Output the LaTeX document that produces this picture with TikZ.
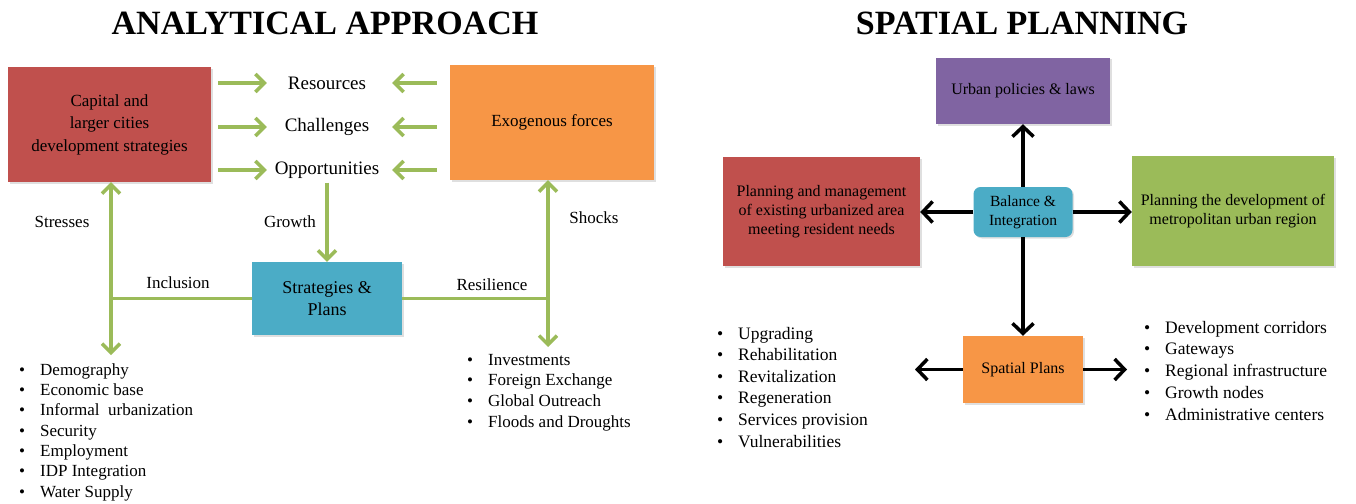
\documentclass[tikz,border=0pt]{standalone}
\usepackage{fontspec}
\setmainfont{Liberation Serif}
\usetikzlibrary{arrows.meta,shadows}
\definecolor{RedClr}{RGB}{192,80,77}
\definecolor{OrangeClr}{RGB}{247,150,70}
\definecolor{BlueClr}{RGB}{75,172,198}
\definecolor{GreenClr}{RGB}{155,187,89}
\definecolor{PurpleClr}{RGB}{128,100,162}
\newcommand{\ListItem}[1]{\makebox[21pt][l]{\textbullet}#1}

\begin{document}
\begin{tikzpicture}[x=1pt,y=-1pt,
  >={Straight Barb[length=9pt,width=18pt]},
  title/.style={font=\bfseries\fontsize{34}{40}\selectfont},
  box/.style={inner sep=2pt,align=center,text=black,
    drop shadow={shadow xshift=1.5pt,shadow yshift=-1.5pt,opacity=.25}},
  word/.style={inner sep=0pt,minimum width=120pt,font=\fontsize{19}{22}\selectfont},
  lbl/.style={inner sep=0pt,font=\fontsize{17}{20}\selectfont},
  list/.style={inner sep=0pt,align=left,anchor=base west},
  garrow/.style={->,draw=GreenClr,line width=3.5pt},
  gline/.style={draw=GreenClr,line width=3.5pt},
  karrow/.style={-{Straight Barb[length=10pt,width=21pt]},draw=black,line width=3.5pt}]
\useasboundingbox (0,0) rectangle (1356,503);

\node[title] (analytic) at (325,23) {ANALYTICAL APPROACH};
\node[title] (planning) at (1022,23) {SPATIAL PLANNING};

\node[box,fill=RedClr,minimum width=203pt,minimum height=115pt,font=\fontsize{17}{22.5}\selectfont] (capital) at (109.5,124.5) {Capital and\\larger cities\\development strategies};
\node[box,fill=OrangeClr,minimum width=204pt,minimum height=115pt,font=\fontsize{17}{22}\selectfont] (exo) at (552,122.5) {Exogenous forces};
\node[box,fill=BlueClr,minimum width=150pt,minimum height=73pt,font=\fontsize{18}{22}\selectfont] (strat) at (327,298.5) {Strategies \&\\Plans};

\node[word] (res) at (327,83) {Resources};
\node[word] (chal) at (327,127) {Challenges};
\node[word] (opp) at (327,170) {Opportunities};

\draw[garrow,shorten <=7pt] (capital.east |- res.west) -- (res.west);
\draw[garrow,shorten <=7pt] (capital.east |- chal.west) -- (chal.west);
\draw[garrow,shorten <=7pt] (capital.east |- opp.west) -- (opp.west);
\draw[garrow,shorten <=13pt,shorten >=5pt] (exo.west |- res.east) -- (res.east);
\draw[garrow,shorten <=13pt,shorten >=5pt] (exo.west |- chal.east) -- (chal.east);
\draw[garrow,shorten <=13pt,shorten >=5pt] (exo.west |- opp.east) -- (opp.east);
\draw[garrow,shorten <=4pt] (opp.south) -- (strat.north);

\coordinate (stressend) at (111,355);
\coordinate (shockend) at (548,347);
\draw[garrow,<->] (capital.south -| stressend) -- (stressend);
\draw[garrow,<->] (exo.south -| shockend) -- (shockend);
\draw[gline] (strat.west) -- (strat.west -| stressend);
\draw[gline] (strat.east) -- (strat.east -| shockend);

\node[lbl] (stresses) at (62,222) {Stresses};
\node[lbl] (growth) at (290,222) {Growth};
\node[lbl] (inclusion) at (178,283) {Inclusion};
\node[lbl] (shocks) at (594,218) {Shocks};
\node[lbl] (resilience) at (492,285) {Resilience};

\node[list,font=\fontsize{17}{20.3}\selectfont] (stresslist) at (19,497) {\ListItem{Demography}\\\ListItem{Economic base}\\\ListItem{Informal\ \ urbanization}\\\ListItem{Security}\\\ListItem{Employment}\\\ListItem{IDP Integration}\\\ListItem{Water Supply}};
\node[list,font=\fontsize{17}{20.6}\selectfont] (shocklist) at (467,427) {\ListItem{Investments}\\\ListItem{Foreign Exchange}\\\ListItem{Global Outreach}\\\ListItem{Floods and Droughts}};

\node[box,fill=PurpleClr,minimum width=174pt,minimum height=66pt,font=\fontsize{16}{19}\selectfont] (policies) at (1023,91) {Urban policies \& laws};
\node[box,fill=RedClr,minimum width=197pt,minimum height=109pt,font=\fontsize{16}{19}\selectfont] (manage) at (821.5,211.5) {Planning and management\\of existing urbanized area\\meeting resident needs};
\node[box,fill=GreenClr,minimum width=202pt,minimum height=110pt,font=\fontsize{16}{19}\selectfont] (metro) at (1233,211) {Planning the development of\\metropolitan urban region};
\node[box,fill=BlueClr,rounded corners=7pt,minimum width=99pt,minimum height=50pt,font=\fontsize{15.5}{19}\selectfont] (balance) at (1023,212) {Balance \&\\Integration};
\node[box,fill=OrangeClr,minimum width=120pt,minimum height=67pt,font=\fontsize{16}{19}\selectfont] (spatial) at (1023,369.5) {Spatial Plans};

\draw[karrow] (balance.north) -- (balance.north |- policies.south);
\draw[karrow] (balance.west) -- (balance.west -| manage.east);
\draw[karrow] (balance.east) -- (balance.east -| metro.west);
\draw[karrow] (balance.south) -- (balance.south |- spatial.north);

\coordinate (upgradeend) at (915,369.5);
\coordinate (corridorend) at (1127,369.5);
\draw[karrow] (spatial.west) -- (upgradeend);
\draw[karrow] (spatial.east) -- (corridorend);

\node[list,font=\fontsize{17.5}{21.6}\selectfont] (upgradelist) at (717,447) {\ListItem{Upgrading}\\\ListItem{Rehabilitation}\\\ListItem{Revitalization}\\\ListItem{Regeneration}\\\ListItem{Services provision}\\\ListItem{Vulnerabilities}};
\node[list,font=\fontsize{17.5}{21.7}\selectfont] (corridorlist) at (1144,420) {\ListItem{Development corridors}\\\ListItem{Gateways}\\\ListItem{Regional infrastructure}\\\ListItem{Growth nodes}\\\ListItem{Administrative centers}};

\end{tikzpicture}
\end{document}
